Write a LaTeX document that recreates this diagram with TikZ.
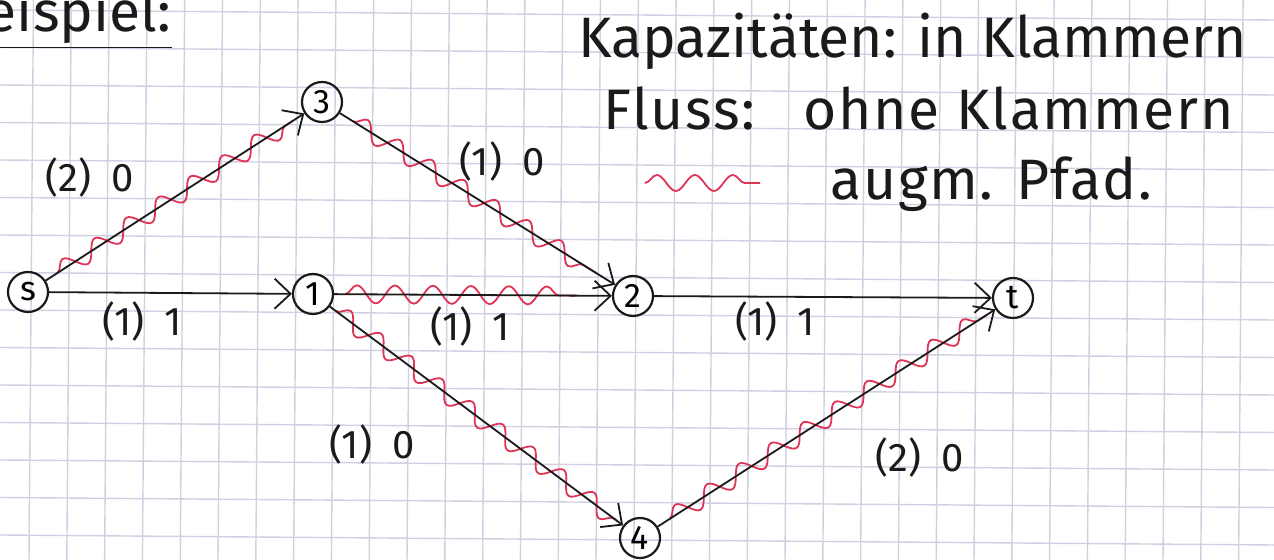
\documentclass[tikz,border=0pt]{standalone}
\usepackage{fontspec}
\setmainfont{Fira Sans}
\usetikzlibrary{arrows.meta, decorations.pathmorphing, calc}
\definecolor{gridline}{RGB}{208,208,226}
\definecolor{penblack}{HTML}{1A1A1A}
\definecolor{markerred}{RGB}{222,52,86}

\tikzset{
  vertex/.style={draw=penblack, circle, line width=1.1pt, minimum size=20pt, inner sep=0pt, font=\fontsize{17}{17}\selectfont},
  arc/.style={draw=penblack, line width=0.9pt, -{Straight Barb[length=8pt,width=15pt,line width=0.9pt]}},
  augpath/.style={draw=markerred, line width=0.9pt, decorate, decoration={snake, amplitude=4.5pt, segment length=19pt}},
  flowlabel/.style={font=\fontsize{20}{20}\selectfont, text=penblack},
  notetext/.style={font=\fontsize{28.5}{28.5}\selectfont, text=penblack, anchor=base west, inner sep=0pt},
  widetext/.style={notetext, font=\fontsize{28.5}{28.5}\selectfont\addfontfeatures{LetterSpace=3}},
}

\begin{document}
\begin{tikzpicture}[x=0.5pt, y=-0.5pt]
\useasboundingbox (0,0) rectangle (1274,560);
\fill[white] (0,0) rectangle (1274,560);
% Karopapier
\foreach \i in {-1,...,34}
  \draw[gridline, line width=0.7pt] ({33.5+37.8*\i},0) -- ({29+37.8*\i},560);
\foreach \j in {-1,...,15}
  \draw[gridline, line width=0.7pt] (0,{10+37.5*\j}) -- (1274,{20+37.5*\j});

% Knoten
\node[vertex] (s) at (28,292) {s};
\node[vertex] (n3) at (322,102) {3};
\node[vertex] (n1) at (313,294) {1};
\node[vertex] (n2) at (633,296) {2};
\node[vertex] (t) at (1013,298) {t};
\node[vertex] (n4) at (640,538) {4};

% augmentierender Pfad
\draw[augpath] ($(s)!0.1!(n3)$) -- ($(s)!0.9!(n3)$);
\draw[augpath] ($(n3)!0.1!(n2)$) -- ($(n3)!0.88!(n2)$);
\draw[augpath] ($(n1)!0.1!(n2)$) -- ($(n1)!0.82!(n2)$);
\draw[augpath] ($(n1)!0.07!(n4)$) -- ($(n1)!0.93!(n4)$);
\draw[augpath] ($(n4)!0.08!(t)$) -- ($(n4)!0.93!(t)$);

% Kanten
\draw[arc] (s) -- (n3);
\draw[arc] (n3) -- (n2);
\draw[arc] (s) -- (n1);
\draw[arc] (n1) -- (n2);
\draw[arc] (n2) -- (t);
\draw[arc] (n1) -- (n4);
\draw[arc] (n4) -- (t);

% Kapazitaet und Fluss
\node[flowlabel] (l-s3) at (90,178) {(2)\hspace{10pt}0};
\node[flowlabel] (l-32) at (502,162) {(1)\hspace{10pt}0};
\node[flowlabel] (l-s1) at (142,322) {(1)\hspace{10pt}1};
\node[flowlabel] (l-12) at (470,327) {(1)\hspace{10pt}1};
\node[flowlabel] (l-2t) at (775,322) {(1)\hspace{10pt}1};
\node[flowlabel] (l-14) at (372,445) {(1)\hspace{10pt}0};
\node[flowlabel] (l-4t) at (920,458) {(2)\hspace{10pt}0};

% Legende
\node[notetext, anchor=base east] (bsp) at (172,32) {\underline{Beispiel:}};
\node[notetext] (kap) at (578,58) {Kapazitäten: in Klammern};
\node[widetext] (fluss) at (603,130) {Fluss:\hspace{24pt}ohne Klammern};
\coordinate (legA) at (645,183);
\coordinate (legB) at (760,183);
\draw[augpath, decoration={snake, amplitude=4pt, segment length=19pt}] (legA) -- (legB);
\node[widetext] (augm) at (830,200) {augm. Pfad.};
\end{tikzpicture}
\end{document}
